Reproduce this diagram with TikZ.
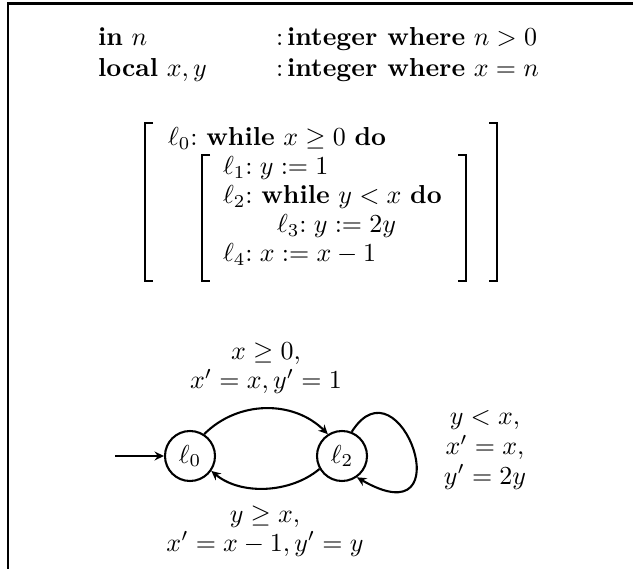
\documentclass[tikz,border=0pt]{standalone}
\usepackage{amsmath,amssymb}
\usetikzlibrary{arrows.meta}
\begin{document}
\begin{tikzpicture}[x=0.385pt,y=-0.385pt,
  tx/.style={anchor=base west,inner sep=0pt,outer sep=0pt},
  lbl/.style={anchor=base,inner sep=0pt,outer sep=0pt},
  loc/.style={circle,draw,line width=0.8pt,minimum size=19.25pt,inner sep=0pt},
  trans/.style={line width=0.8pt,-{Stealth[length=3.6pt,width=3.4pt,inset=1.2pt]}},
  brk/.style={line width=0.8pt},
  frm/.style={line width=0.85pt}]
\useasboundingbox (0,0) rectangle (633,569);
% frame (top and left sides only)
\draw[frm] (8,569) -- (8,3.5) -- (633,3.5);
% declarations
\node[tx] (in)  at (98,46) {\textbf{in} $n$};
\node[tx] (int1) at (276,46) {${:}$\kern1.5pt\textbf{integer where} $n>0$};
\node[tx] (loc) at (98,77) {\textbf{local} $x,y$};
\node[tx] (int2) at (276,77) {${:}$\kern1.5pt\textbf{integer where} $x=n$};
% program brackets
\draw[brk] (153,123) -- (145,123) -- (145,281) -- (153,281);
\draw[brk] (489,123) -- (497,123) -- (497,281) -- (489,281);
\draw[brk] (210,155) -- (202,155) -- (202,281) -- (210,281);
\draw[brk] (458,155) -- (466,155) -- (466,281) -- (458,281);
% program text
\node[tx] (p0) at (168,146) {$\ell_0{:}$ \textbf{while} $x\geq 0$ \textbf{do}};
\node[tx] (p1) at (223,175) {$\ell_1{:}\;y:=1$};
\node[tx] (p2) at (223,204) {$\ell_2{:}$ \textbf{while} $y<x$ \textbf{do}};
\node[tx] (p3) at (277,233) {$\ell_3{:}\;y:=2y$};
\node[tx] (p4) at (223,262) {$\ell_4{:}\;x:=x-1$};
% automaton
\node[loc] (l0) at (190,456) {$\ell_0$};
\node[loc] (l2) at (342,456) {$\ell_2$};
\coordinate (init) at (115,456);
\draw[trans] (init) -- (l0);
\draw[trans] (l0.57) to[out=45,in=135] (l2.123);
\draw[trans] (l2.-150) to[out=-140,in=-40,looseness=0.9] (l0.-35);
\draw[trans] (l2.68) .. controls (400,355) and (465,540) .. (l2.-55);
% labels
\node[lbl] (a1) at (266,360) {$x\geq 0,$};
\node[lbl] (a2) at (266,389) {$x'=x,y'=1$};
\node[lbl] (b1) at (265,522) {$y\geq x,$};
\node[lbl] (b2) at (265,551) {$x'=x-1,y'=y$};
\node[lbl] (c1) at (485,425) {$y<x,$};
\node[lbl] (c2) at (485,455) {$x'=x,$};
\node[lbl] (c3) at (485,484) {$y'=2y$};
\end{tikzpicture}
\end{document}
